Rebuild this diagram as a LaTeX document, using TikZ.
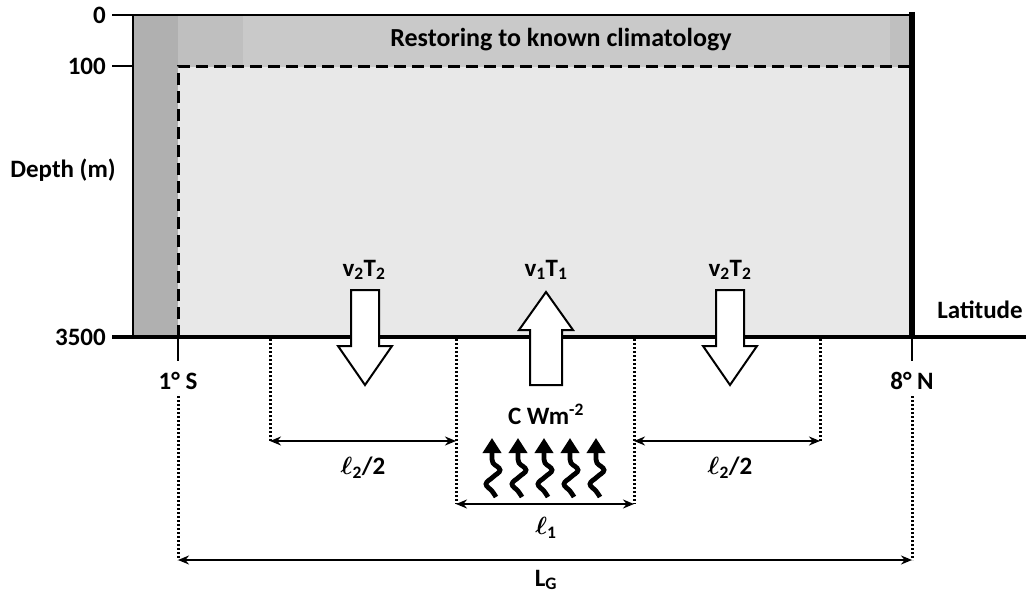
\documentclass[tikz,border=0pt]{standalone}
\usepackage{amsmath}
\usepackage{fontspec}
\setmainfont{Carlito}
\usetikzlibrary{arrows.meta}
\begin{document}
\begin{tikzpicture}[x=1pt,y=-1pt,
  lbl/.style={font=\bfseries\fontsize{25}{27}\selectfont, inner sep=0pt},
  dotline/.style={line width=3pt, dash pattern=on 2.4pt off 1.6pt},
  dimarrow/.style={line width=2.4pt, {Stealth[length=11pt,width=9pt]}-{Stealth[length=11pt,width=9pt]}},
  blockarrow/.style={draw=black, line width=2pt, fill=white, line join=miter},
  wiggle/.style={line width=4.8pt, -{Triangle[length=15pt,width=18pt]}}
]
\useasboundingbox (0,0) rectangle (1026,594);
% fills
\fill[gray!18] (133,15) rectangle (915,337);
\fill[gray!42] (133,15) rectangle (915,67);
\fill[gray!50] (133,15) rectangle (243,67);
\fill[gray!50] (890,15) rectangle (912,67);
\fill[gray!62] (133,15) rectangle (178,337);
% box border
\draw[line width=2.4pt] (133,337) -- (133,15) -- (912,15);
\draw[line width=6pt] (912,12) -- (912,337);
% dashed region
\draw[line width=3pt, dash pattern=on 12pt off 6pt] (178,337) -- (178,67) -- (912,67);
% axis
\draw[line width=3.4pt] (112,337) -- (1026,337);
\draw[line width=2.6pt] (112,15) -- (133,15);
\draw[line width=2.6pt] (112,66) -- (133,66);
\draw[line width=2.6pt] (178,337) -- (178,361);
\draw[line width=2.6pt] (912,337) -- (912,361);
% axis labels
\node[lbl, anchor=east] (d0) at (106,15) {0};
\node[lbl, anchor=east] (d100) at (106,66) {100};
\node[lbl, anchor=east] (d3500) at (106,337) {3500};
\node[lbl] (depth) at (63,170) {Depth (m)};
\node[lbl] (lat) at (980,310) {Latitude};
\node[lbl] (s1) at (178,381) {1° S};
\node[lbl] (n8) at (912,381) {8° N};
\node[lbl, font=\bfseries\fontsize{26}{28}\selectfont] (rest) at (561,40) {Restoring to known climatology};
% block arrows
\draw[blockarrow] (351,290) -- (379,290) -- (379,346) -- (392,346) -- (365,385) -- (338,346) -- (351,346) -- cycle;
\draw[blockarrow] (530,385) -- (562,385) -- (562,330) -- (573,330) -- (546,292) -- (519,330) -- (530,330) -- cycle;
\draw[blockarrow] (716,290) -- (744,290) -- (744,346) -- (757,346) -- (730,385) -- (703,346) -- (716,346) -- cycle;
\node[lbl] (vl) at (364,270) {v\textsubscript{2}T\textsubscript{2}};
\node[lbl] (vc) at (546,270) {v\textsubscript{1}T\textsubscript{1}};
\node[lbl] (vr) at (730,270) {v\textsubscript{2}T\textsubscript{2}};
% dotted verticals
\coordinate (a1) at (270,339); \coordinate (a2) at (270,441);
\coordinate (b1) at (456,339); \coordinate (b2) at (456,504);
\coordinate (c1) at (634,339); \coordinate (c2) at (634,504);
\coordinate (e1) at (820,339); \coordinate (e2) at (820,441);
\coordinate (f1) at (178,396); \coordinate (f2) at (178,560);
\coordinate (g1) at (912,396); \coordinate (g2) at (912,560);
\draw[dotline] (a1) -- (a2);
\draw[dotline] (b1) -- (b2);
\draw[dotline] (c1) -- (c2);
\draw[dotline] (e1) -- (e2);
\draw[dotline] (f1) -- (f2);
\draw[dotline] (g1) -- (g2);
% dimension arrows
\draw[dimarrow] (a2) -- (456,441);
\draw[dimarrow] (634,441) -- (e2);
\draw[dimarrow] (b2) -- (c2);
\draw[dimarrow] (f2) -- (g2);
\node[lbl] (l2a) at (363,468) {$\boldsymbol{\ell}$\textsubscript{2}/2};
\node[lbl] (l2b) at (730,468) {$\boldsymbol{\ell}$\textsubscript{2}/2};
\node[lbl] (l1) at (546,528) {$\boldsymbol{\ell}$\textsubscript{1}};
\node[lbl] (lg) at (546,580) {L\textsubscript{G}};
\node[lbl] (cw) at (546,414) {C Wm\textsuperscript{-2}};
% wiggly arrows
\foreach \xx in {494,520,546,572,598}
  \draw[wiggle, shift={(\xx,497)}] plot[smooth, tension=0.7] coordinates {(2,0) (-2,-6) (-8,-13) (-1,-20) (6,-27) (-1,-34) (-2,-40)} -- (-2,-59);
\end{tikzpicture}
\end{document}
